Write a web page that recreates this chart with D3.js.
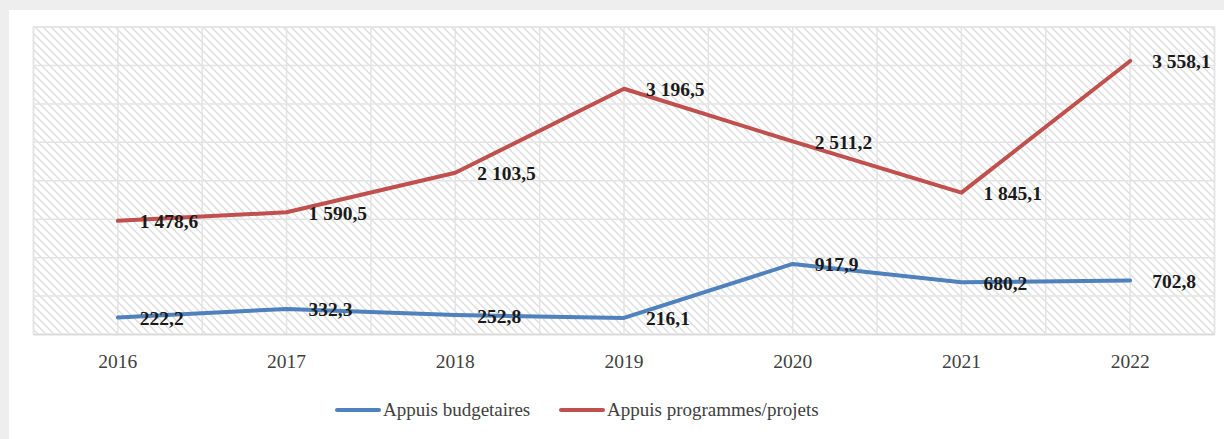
<!DOCTYPE html>
<html>
<head>
<meta charset="utf-8">
<script src="https://cdn.jsdelivr.net/npm/d3@7"></script>
<style>
  html, body { margin: 0; padding: 0; background: #eeeeee; }
</style>
</head>
<body>
<script>
const years = ['2016', '2017', '2018', '2019', '2020', '2021', '2022']
const budgetaires = [222.2, 332.3, 252.8, 216.1, 917.9, 680.2, 702.8]
const programmes = [1478.6, 1590.5, 2103.5, 3196.5, 2511.2, 1845.1, 3558.1]
const seriesNames = ['Appuis budgetaires', 'Appuis programmes/projets']
const seriesColors = ['#4f81bd', '#c0504d']
const yMax = 4000
const yStep = 500

const width = 1224
const height = 439
const plot = { left: 33.5, right: 1214.5, top: 27, bottom: 334.5 }

const fmt = v => {
  const [i, d] = v.toFixed(1).split('.')
  return i.replace(/\B(?=(\d{3})+(?!\d))/g, ' ') + ',' + d
}

const x = d3.scalePoint().domain(years).range([plot.left, plot.right]).padding(0.5)
const y = d3.scaleLinear().domain([0, yMax]).range([plot.bottom, plot.top])

const svg = d3
  .create('svg')
  .attr('width', width)
  .attr('height', height)
  .attr('viewBox', [0, 0, width, height])
  .attr('font-family', '"Liberation Serif", "DejaVu Serif", serif')

// hatch pattern of the plot area (wide downward diagonal)
const pat = svg
  .append('defs')
  .append('pattern')
  .attr('id', 'hatch')
  .attr('patternUnits', 'userSpaceOnUse')
  .attr('width', 8)
  .attr('height', 8)
pat.append('rect').attr('width', 8).attr('height', 8).attr('fill', '#fff')
pat
  .append('path')
  .attr('d', 'M-1,-1 L9,9 M-1,7 L1,9 M7,-1 L9,1')
  .attr('stroke', '#dcdcdc')
  .attr('stroke-width', 1.3)

svg.append('rect').attr('x', 9).attr('y', 10).attr('width', width - 9).attr('height', height - 10).attr('fill', '#fff')

svg
  .append('rect')
  .attr('x', plot.left)
  .attr('y', plot.top)
  .attr('width', plot.right - plot.left)
  .attr('height', plot.bottom - plot.top)
  .attr('fill', 'url(#hatch)')
  .attr('stroke', '#e3e3e3')
  .attr('stroke-width', 1.5)

// grid: horizontal every step, vertical at category boundaries
const step = x.step()
const vLines = d3.range(years.length * 2 + 1).map(i => plot.left + (i * step) / 2)
const grid = svg.append('g').attr('stroke', '#e4e4e4').attr('stroke-width', 1.5)
grid
  .selectAll('line.h')
  .data(d3.range(0, yMax + 1, yStep))
  .join('line')
  .attr('class', 'h')
  .attr('x1', plot.left)
  .attr('x2', plot.right)
  .attr('y1', d => y(d))
  .attr('y2', d => y(d))
grid
  .selectAll('line.v')
  .data(vLines)
  .join('line')
  .attr('class', 'v')
  .attr('x1', d => d)
  .attr('x2', d => d)
  .attr('y1', plot.top)
  .attr('y2', plot.bottom)

// x axis
svg
  .append('line')
  .attr('x1', plot.left)
  .attr('x2', plot.right)
  .attr('y1', plot.bottom)
  .attr('y2', plot.bottom)
  .attr('stroke', '#d9d9d9')
  .attr('stroke-width', 1.5)

svg
  .append('g')
  .selectAll('text')
  .data(years)
  .join('text')
  .attr('x', d => x(d))
  .attr('y', 368)
  .attr('text-anchor', 'middle')
  .attr('font-size', 19.5)
  .attr('fill', '#404040')
  .text(d => d)

const series = [budgetaires, programmes]
const line = d3
  .line()
  .x((d, i) => x(years[i]))
  .y(d => y(d))

svg
  .append('g')
  .attr('fill', 'none')
  .attr('stroke-width', 4)
  .attr('stroke-linejoin', 'round')
  .attr('stroke-linecap', 'round')
  .selectAll('path')
  .data(series)
  .join('path')
  .attr('stroke', (d, i) => seriesColors[i])
  .attr('d', line)

// data labels, right of each point
series.forEach(vals => {
  svg
    .append('g')
    .attr('font-size', 19.5)
    .attr('font-weight', 'bold')
    .attr('fill', '#1a1a1a')
    .selectAll('text')
    .data(vals)
    .join('text')
    .attr('x', (d, i) => x(years[i]) + 22)
    .attr('y', d => y(d) + 7.5)
    .text(d => fmt(d))
})

// legend
const legendX = [337, 561]
const lg = svg
  .append('g')
  .selectAll('g')
  .data(seriesNames)
  .join('g')
  .attr('transform', (d, i) => `translate(${legendX[i]},410)`)
lg.append('line')
  .attr('x1', 0)
  .attr('x2', 42)
  .attr('stroke', (d, i) => seriesColors[i])
  .attr('stroke-width', 4)
  .attr('stroke-linecap', 'round')
lg.append('text')
  .attr('x', 46)
  .attr('y', 6)
  .attr('font-size', 19)
  .attr('fill', '#404040')
  .text(d => d)

document.body.appendChild(svg.node())
</script>
</body>
</html>
